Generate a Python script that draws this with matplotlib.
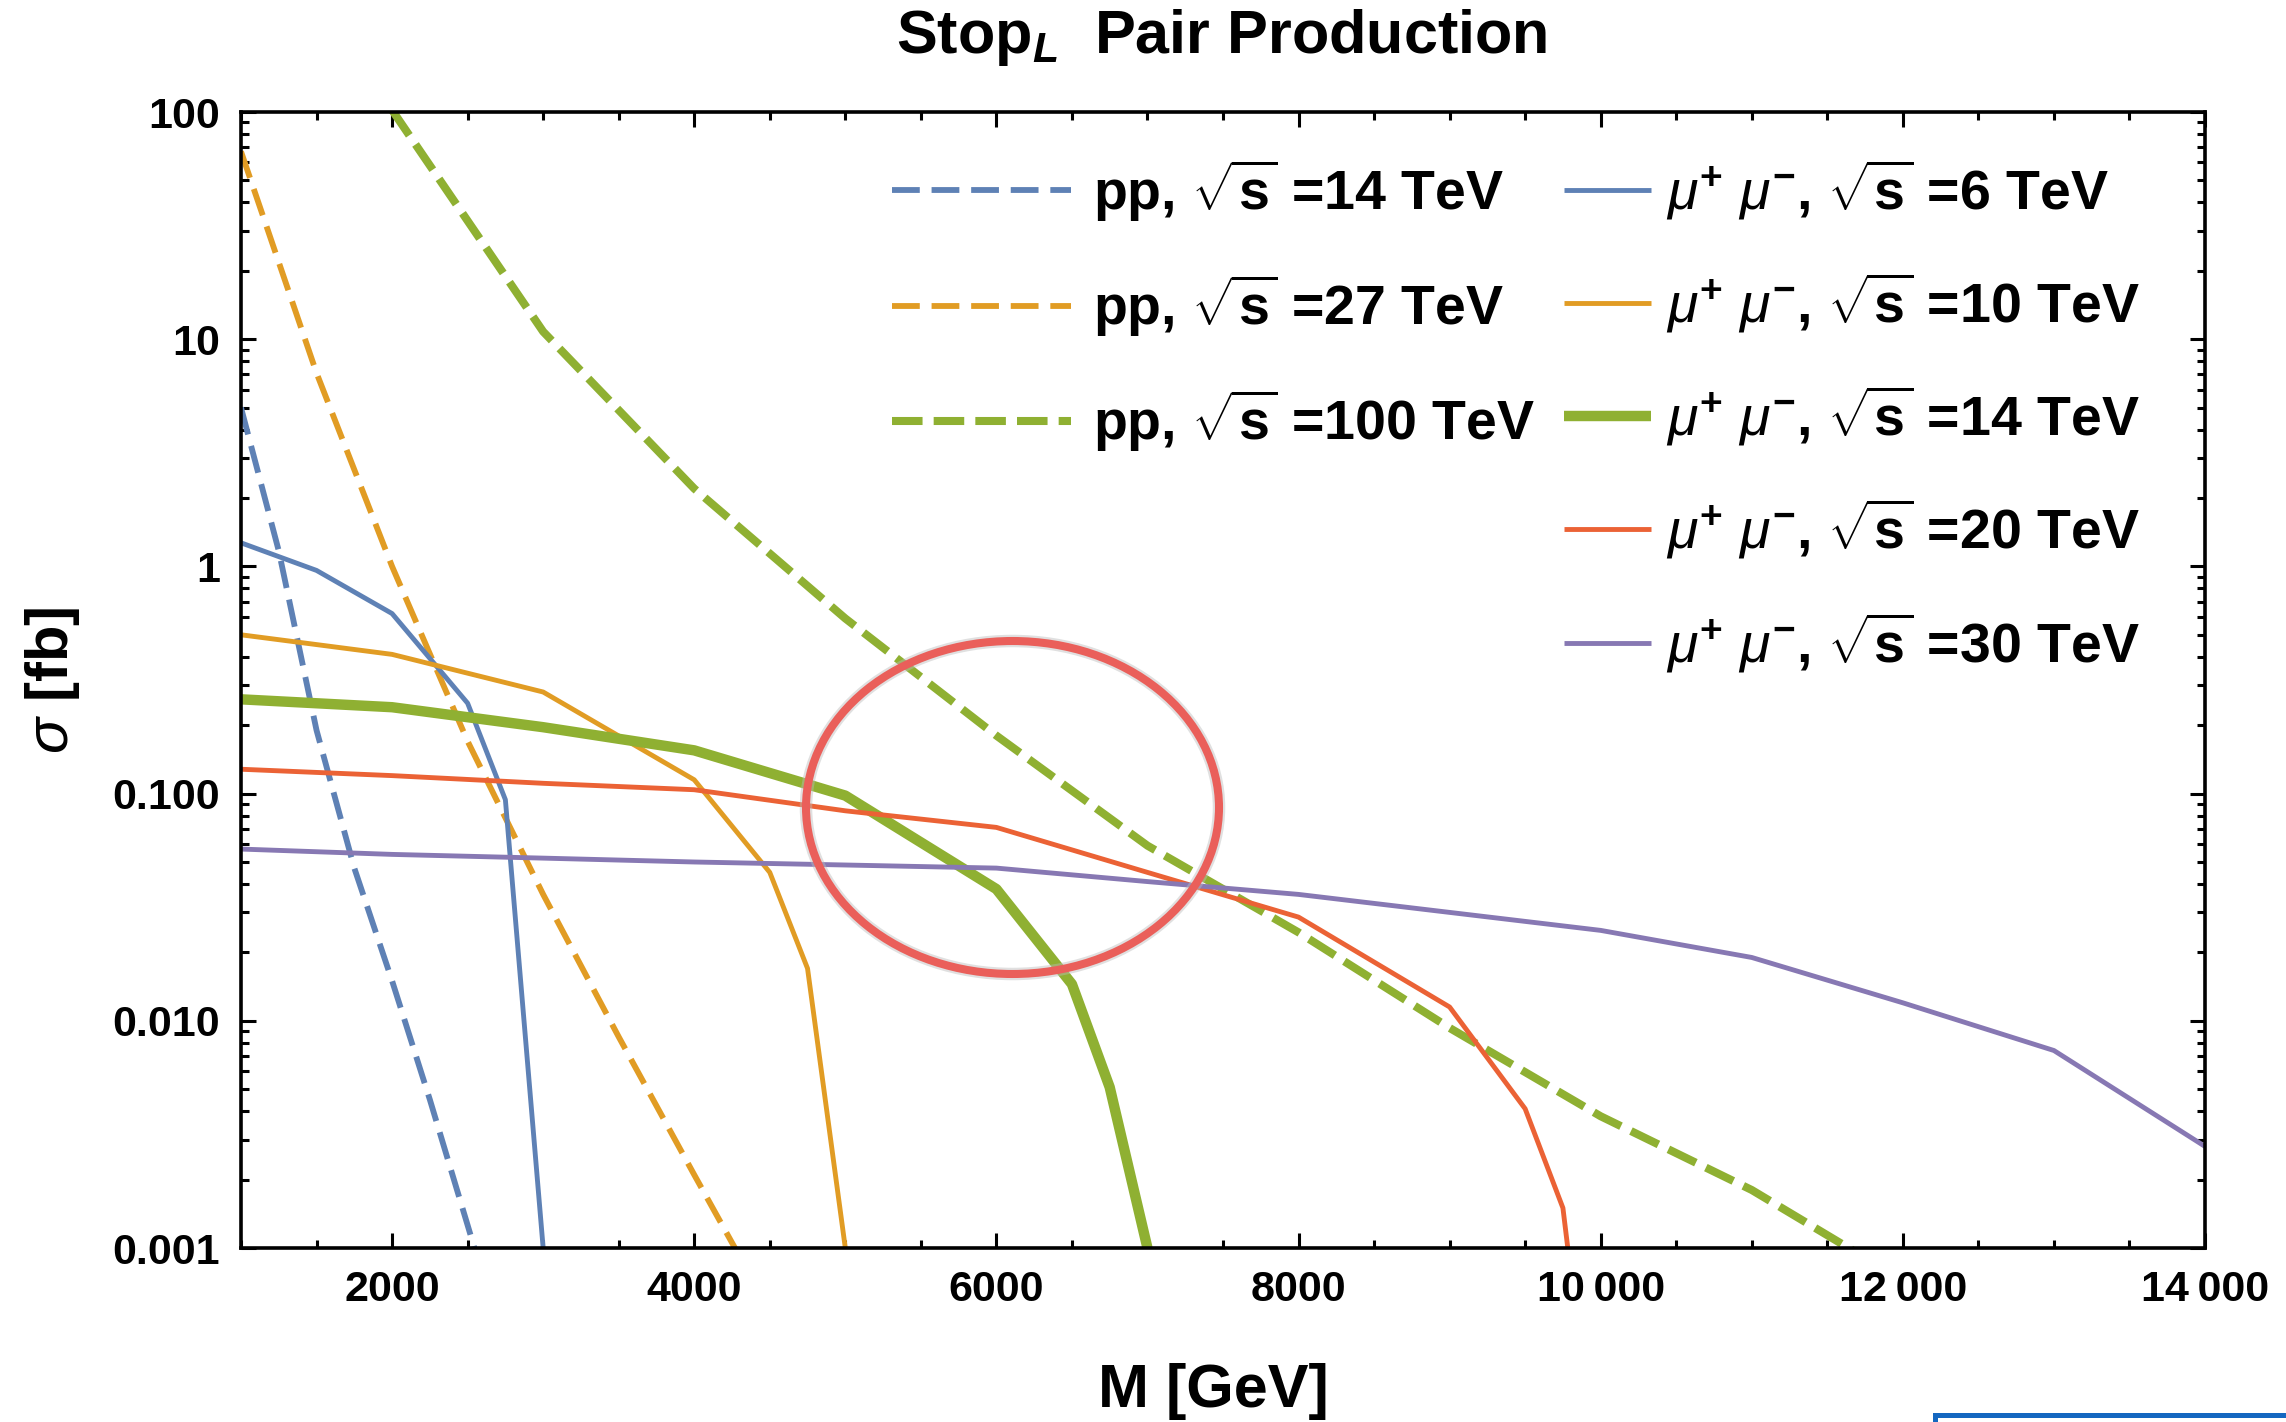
import matplotlib
matplotlib.use('Agg')
import matplotlib.pyplot as plt
from matplotlib.patches import Ellipse, Rectangle
from matplotlib.ticker import FixedLocator, FixedFormatter, MultipleLocator, LogLocator, NullFormatter
import matplotlib.patheffects as pe

plt.rcParams['font.family'] = ['Liberation Sans', 'DejaVu Sans']
plt.rcParams['font.weight'] = 'bold'
plt.rcParams['mathtext.fontset'] = 'custom'
plt.rcParams['mathtext.rm'] = 'Liberation Sans:style=normal:weight=bold'
plt.rcParams['mathtext.bf'] = 'Liberation Sans:style=normal:weight=bold'
plt.rcParams['mathtext.sf'] = 'Liberation Sans:style=normal:weight=bold'
plt.rcParams['mathtext.it'] = 'Liberation Sans:style=italic:weight=normal'
plt.rcParams['mathtext.bfit'] = 'Liberation Sans:style=italic:weight=bold'
plt.rcParams['lines.scale_dashes'] = False

# ---------------- data ----------------
M_pp14 = [1000, 1250, 1500, 1750, 2000, 2250, 2500, 2750]
s_pp14 = [5.0, 1.17, 0.19, 0.047, 0.015, 0.0045, 0.00126, 0.00035]

M_pp27 = [1000, 1500, 2000, 2500, 3000, 3500, 4000, 4500]
s_pp27 = [67, 7.1, 1.0, 0.17, 0.036, 0.0085, 0.0021, 0.00053]

M_pp100 = [2000, 3000, 4000, 5000, 6000, 7000, 8000, 9000, 10000, 11000, 12000]
s_pp100 = [102, 10.8, 2.2, 0.59, 0.18, 0.059, 0.0245, 0.0093, 0.0038, 0.0018, 0.00072]

M_mu6 = [1000, 1500, 2000, 2500, 2750, 3000]
s_mu6 = [1.27, 0.96, 0.62, 0.25, 0.094, 0.001]

M_mu10 = [1000, 2000, 3000, 4000, 4500, 4750, 5000]
s_mu10 = [0.50, 0.41, 0.28, 0.115, 0.045, 0.017, 0.001]

M_mu14 = [1000, 2000, 3000, 4000, 5000, 6000, 6500, 6750, 7000]
s_mu14 = [0.26, 0.24, 0.196, 0.155, 0.098, 0.038, 0.0145, 0.0051, 0.001]

M_mu20 = [1000, 2000, 3000, 4000, 5000, 6000, 7000, 8000, 9000, 9500, 9750, 9800]
s_mu20 = [0.128, 0.12, 0.111, 0.104, 0.084, 0.071, 0.045, 0.0286, 0.0115, 0.0041, 0.0015, 0.0008]

M_mu30 = [1000, 2000, 3000, 4000, 5000, 6000, 7000, 8000, 9000, 10000, 11000, 12000, 13000, 14000]
s_mu30 = [0.057, 0.054, 0.052, 0.050, 0.0485, 0.047, 0.041, 0.036, 0.030, 0.025, 0.019, 0.012, 0.0074, 0.0028]

labels_pp = [r"pp, $\sqrt{\mathrm{s}}$ =14 TeV",
             r"pp, $\sqrt{\mathrm{s}}$ =27 TeV",
             r"pp, $\sqrt{\mathrm{s}}$ =100 TeV"]
labels_mu = [r"$\mu^{+}\ \mu^{-}$, $\sqrt{\mathrm{s}}$ =6 TeV",
             r"$\mu^{+}\ \mu^{-}$, $\sqrt{\mathrm{s}}$ =10 TeV",
             r"$\mu^{+}\ \mu^{-}$, $\sqrt{\mathrm{s}}$ =14 TeV",
             r"$\mu^{+}\ \mu^{-}$, $\sqrt{\mathrm{s}}$ =20 TeV",
             r"$\mu^{+}\ \mu^{-}$, $\sqrt{\mathrm{s}}$ =30 TeV"]

x_ticks = [2000, 4000, 6000, 8000, 10000, 12000, 14000]
x_tick_labels = ["2000", "4000", "6000", "8000", "10\u2009000", "12\u2009000", "14\u2009000"]
y_ticks = [0.001, 0.01, 0.1, 1, 10, 100]
y_tick_labels = ["0.001", "0.010", "0.100", "1", "10", "100"]

title = r"Stop$_{\mathbfit{L}}$  Pair Production"
xlabel = "M [GeV]"
ylabel = r"$\sigma$ [fb]"

# colours (Mathematica default palette)
C_BLUE = '#5E81B5'
C_ORANGE = '#E19C24'
C_GREEN = '#8FB032'
C_RED = '#EB6235'
C_PURPLE = '#8778B3'

W, H = 2286, 1422
fig = plt.figure(figsize=(W / 100, H / 100), dpi=100)
ax = fig.add_axes([241 / W, 1 - 1248 / H, (2205 - 241) / W, (1248 - 112) / H])

d_small = (20, 8.5)
d_big = (22, 8.0)
l1, = ax.plot(M_pp14, s_pp14, color=C_BLUE, lw=4.2, dashes=d_small, label=labels_pp[0])
l2, = ax.plot(M_pp27, s_pp27, color=C_ORANGE, lw=4.2, dashes=d_small, label=labels_pp[1])
l3, = ax.plot(M_pp100, s_pp100, color=C_GREEN, lw=5.8, dashes=d_big, label=labels_pp[2])
l4, = ax.plot(M_mu6, s_mu6, color=C_BLUE, lw=3.5, label=labels_mu[0])
l5, = ax.plot(M_mu10, s_mu10, color=C_ORANGE, lw=3.5, label=labels_mu[1])
l6, = ax.plot(M_mu14, s_mu14, color=C_GREEN, lw=7.5, label=labels_mu[2])
l7, = ax.plot(M_mu20, s_mu20, color=C_RED, lw=3.5, label=labels_mu[3])
l8, = ax.plot(M_mu30, s_mu30, color=C_PURPLE, lw=3.5, label=labels_mu[4])
for l in (l1, l2, l3, l4, l5, l6, l7, l8):
    l.set_solid_capstyle('butt')
    l.set_dash_capstyle('butt')

ax.set_yscale('log')
ax.set_xlim(1000, 14000)
ax.set_ylim(0.001, 100)

ax.xaxis.set_major_locator(FixedLocator(x_ticks))
ax.xaxis.set_major_formatter(FixedFormatter(x_tick_labels))
ax.xaxis.set_minor_locator(MultipleLocator(500))
ax.yaxis.set_major_locator(FixedLocator(y_ticks))
ax.yaxis.set_major_formatter(FixedFormatter(y_tick_labels))
ax.yaxis.set_minor_locator(LogLocator(base=10, subs=[2, 3, 4, 5, 6, 7, 8, 9], numticks=20))
ax.yaxis.set_minor_formatter(NullFormatter())

ax.tick_params(which='both', direction='in', top=True, right=True, width=2.2, color='black')
ax.tick_params(which='major', length=10.5)
ax.tick_params(which='minor', length=6)
ax.tick_params(axis='x', which='major', labelsize=31, pad=16)
ax.tick_params(axis='y', which='major', labelsize=31, pad=15)
for lab in ax.get_xticklabels() + ax.get_yticklabels():
    lab.set_fontweight('bold')
for sp in ax.spines.values():
    sp.set_linewidth(2.6)

# legends
leg_fs = 40
leg1 = ax.legend(handles=[l1, l2, l3], loc='upper left', bbox_to_anchor=(0.3315, 0.960),
                 frameon=False, fontsize=leg_fs, handlelength=3.3 * 39 / leg_fs,
                 handletextpad=0.40, labelspacing=0.88, borderpad=0, borderaxespad=0)
ax.add_artist(leg1)
leg2 = ax.legend(handles=[l4, l5, l6, l7, l8], loc='upper left', bbox_to_anchor=(0.6736, 0.960),
                 frameon=False, fontsize=leg_fs, handlelength=1.6 * 39 / leg_fs,
                 handletextpad=0.28, labelspacing=0.88, borderpad=0, borderaxespad=0)

# texts
fig.text(1222 / W, 1 - 38 / H, title, ha='center', va='center', fontsize=44, fontweight='bold')
fig.text(1213 / W, 1 - 1392 / H, xlabel, ha='center', va='center', fontsize=44, fontweight='bold')
fig.text(53 / W, 1 - 680 / H, ylabel, ha='center', va='center', rotation=90, fontsize=43,
         fontweight='bold')

# red highlight circle (annotation)
ell = Ellipse((1012.5 / W, 1 - 807.5 / H), 413 / W, 333 / H, transform=fig.transFigure,
              fill=False, edgecolor='#EA5F5A', lw=5.8, zorder=10,
              path_effects=[pe.Stroke(linewidth=9, foreground='#bbbbbb', alpha=0.45), pe.Normal()])
fig.add_artist(ell)

# blue frame fragment at bottom right
rect = Rectangle((1935 / W, -0.05), (W - 1935 + 50) / W, 0.05 + 7 / H, transform=fig.transFigure,
                 fill=False, edgecolor='#1467C0', lw=3.6)
fig.add_artist(rect)

fig.savefig('out.png', dpi=100)
